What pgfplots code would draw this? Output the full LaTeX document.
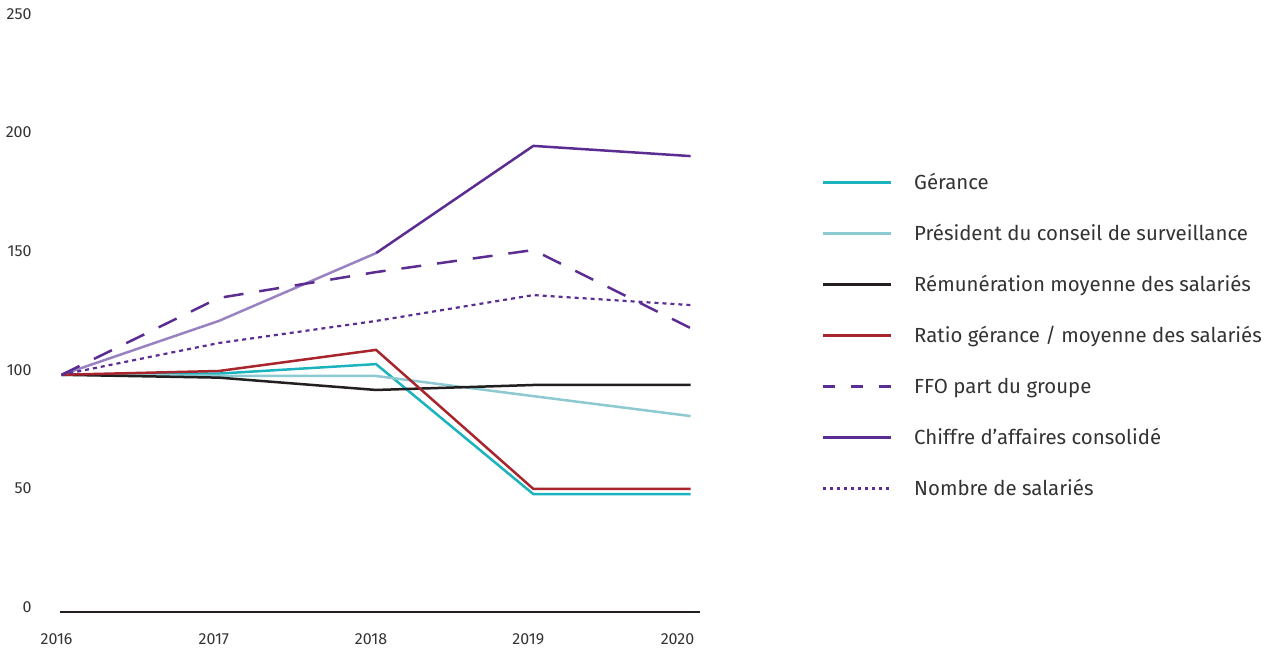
\documentclass[border=0pt]{standalone}
\usepackage{pgfplots}
\pgfplotsset{compat=1.18}
\usepackage{fontspec}
\setmainfont{Fira Sans}
\definecolor{cGer}{HTML}{1BB3BE}
\definecolor{cPres}{HTML}{8CC9D0}
\definecolor{cRem}{HTML}{231F20}
\definecolor{cRat}{HTML}{A8252D}
\definecolor{cPur}{HTML}{5B2C91}
\definecolor{cLPur}{HTML}{9A82C2}
\definecolor{cTxt}{HTML}{333333}
\begin{document}
\begin{tikzpicture}
\path[use as bounding box] (0,0) rectangle (635.5pt,325.5pt);
\begin{axis}[
  at={(30pt,19.5pt)}, anchor=south west,
  scale only axis, width=320pt, height=296.5pt,
  xmin=2015.99, xmax=2020.06, ymin=0, ymax=250,
  axis x line=bottom, axis y line=none,
  x axis line style={-, line width=1pt, color=cRem},
  xtick={2016,2017,2018,2019,2020},
  xticklabels={2016,2017,2018,2019,{\hspace*{-8pt}2020}},
  major tick length=0pt,
  clip=false,
  tick label style={font=\fontsize{8}{9}\selectfont, text=cTxt},
  /pgf/number format/assume math mode=true,
  xticklabel style={yshift=-7.5pt, xshift=-2.5pt},
  legend style={draw=none, fill=none, at={(1.1895,0.464)}, anchor=west, inner sep=0pt,
    row sep=16pt, column sep=0pt,
    font=\fontsize{10.2}{12}\selectfont, text=cTxt,
    nodes={inner sep=0pt, text height=7.5pt, text depth=2pt, anchor=base west}},
  legend cell align=left,
  legend image code/.code={\path[draw=none] (0pt,3.6pt) (45.5pt,3.6pt);\draw[#1, line width=1.5pt] (0pt,3.6pt) -- (34pt,3.6pt);},
]
\pgfplotsinvokeforeach{0,50,100,150,200,250}{
  \node[anchor=east, font=\fontsize{8}{9}\selectfont, text=cTxt, inner sep=0pt] at (axis cs:2015.99,#1) [xshift=-14pt, yshift=2.5pt] {#1};
}
\addplot[color=cLPur, line width=1.25pt, forget plot] coordinates {(2016,100) (2017,122.7) (2018,151.3)};
\addplot[color=cGer, line width=1.25pt] coordinates {(2016,100) (2017,100.5) (2018,104.5) (2019,49.7) (2020,49.7)};
\addlegendentry{Gérance}
\addplot[color=cPres, line width=1.25pt] coordinates {(2016,100) (2017,99.6) (2018,99.5) (2019,91) (2020,82.6)};
\addlegendentry{Président du conseil de surveillance}
\addplot[color=cRem, line width=1.25pt] coordinates {(2016,100) (2017,98.8) (2018,93.6) (2019,95.7) (2020,95.7)};
\addlegendentry{Rémunération moyenne des salariés}
\addplot[color=cRat, line width=1.25pt] coordinates {(2016,100) (2017,101.6) (2018,110.5) (2019,51.9) (2020,51.9)};
\addlegendentry{Ratio gérance / moyenne des salariés}
\addplot[color=cPur, line width=1.25pt, dash pattern=on 10pt off 8pt, legend image post style={dash pattern=on 6pt off 8pt}] coordinates {(2016,100) (2017,132.4) (2018,143.3) (2019,152.6) (2020,119.7)};
\addlegendentry{FFO part du groupe}
\addplot[color=cPur, line width=1.25pt] coordinates {(2018,151.3) (2019,196.5) (2020,192.2)};
\addlegendentry{Chiffre d'affaires consolidé}
\addplot[color=cPur, line width=1.1pt, dash pattern=on 2pt off 2pt, legend image post style={line width=1.2pt, dash pattern=on 1.5pt off 2pt}] coordinates {(2016,100) (2017,113.4) (2018,122.7) (2019,133.6) (2020,129.4)};
\addlegendentry{Nombre de salariés}
\end{axis}
\end{tikzpicture}
\end{document}
